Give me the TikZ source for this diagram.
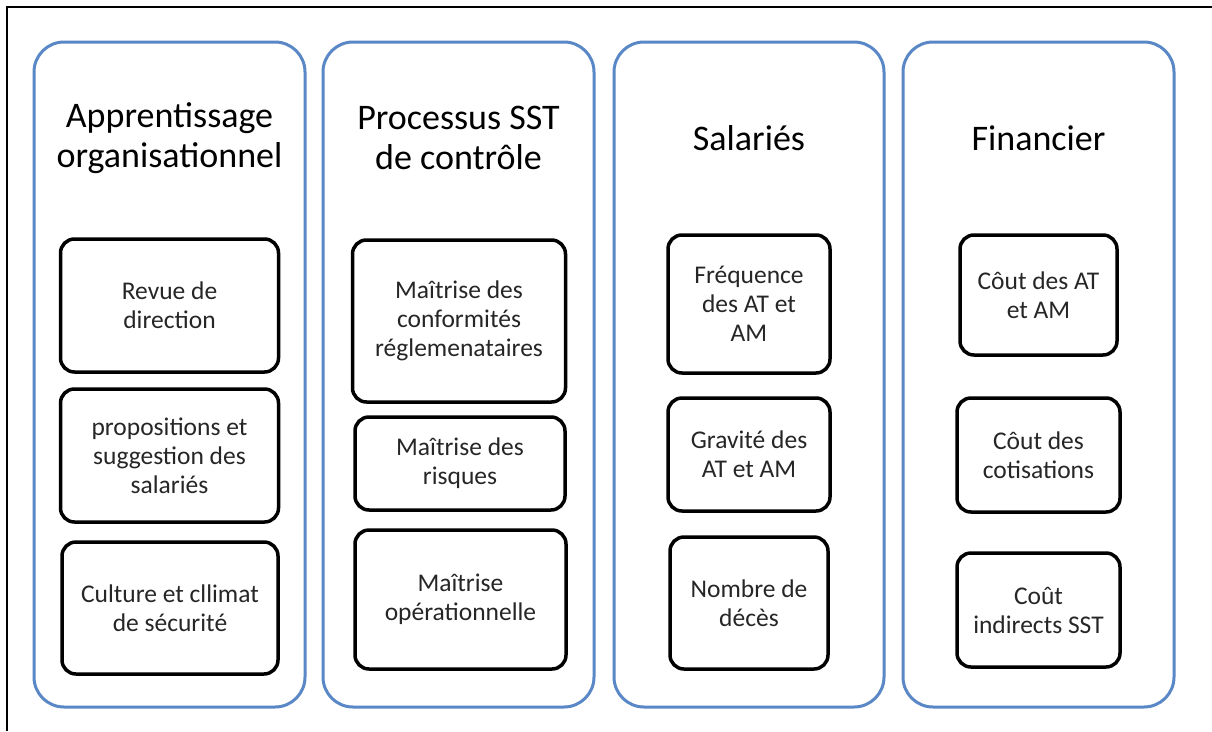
\documentclass[tikz,border=0pt]{standalone}
\usepackage{fontspec}
\setmainfont{Carlito}
\definecolor{colblue}{HTML}{5A87C6}
\begin{document}
\begin{tikzpicture}[x=1pt,y=-1pt,
  col/.style={draw=colblue,line width=3pt,rounded corners=30pt,inner sep=0pt},
  item/.style={draw=black,line width=3.5pt,rounded corners=14pt,align=center,inner sep=0pt,
    font=\fontsize{25.5}{29}\selectfont,text=black!85},
  title/.style={align=center,inner sep=0pt,font=\fontsize{36}{40}\selectfont}]
\useasboundingbox (0,0) rectangle (1212,731);
\fill[white] (0,0) rectangle (1212,731);
\coordinate (fa) at (7,731);
\coordinate (fb) at (7,7);
\coordinate (fc) at (1212,7);
\draw[line width=2pt] (fa) -- (fb) -- (fc);

% columns
\node[col,minimum width=271pt,minimum height=665pt] (c1) at (169.5,374.5) {};
\node[col,minimum width=271pt,minimum height=665pt] (c2) at (458.5,374.5) {};
\node[col,minimum width=270pt,minimum height=665pt] (c3) at (749,374.5) {};
\node[col,minimum width=271pt,minimum height=665pt] (c4) at (1038.5,374.5) {};

% titles
\node[title] (t1) at (169.5,138) {Apprentissage\\organisationnel};
\node[title] (t2) at (458.5,138) {Processus SST\\de contrôle};
\node[title] (t3) at (749,138) {Salariés};
\node[title] (t4) at (1038.5,138) {Financier};

% column 1
\node[item,minimum width=218pt,minimum height=133pt] (a1) at (169.5,305.5) {Revue de\\direction};
\node[item,minimum width=218pt,minimum height=133pt] (a2) at (169.5,455.5) {propositions et\\suggestion des\\salariés};
\node[item,minimum width=216pt,minimum height=132pt] (a3) at (170,608) {Culture et cllimat\\de sécurité};

% column 2
\node[item,minimum width=213pt,minimum height=162pt] (b1) at (459,321) {Maîtrise des\\conformités\\réglemenataires};
\node[item,minimum width=210pt,minimum height=93pt] (b2) at (460,463.5) {Maîtrise des\\risques};
\node[item,minimum width=211pt,minimum height=139pt] (b3) at (460.5,599.5) {Maîtrise\\opérationnelle};

% column 3
\node[item,minimum width=162pt,minimum height=138pt] (s1) at (749,304) {Fréquence\\des AT et\\AM};
\node[item,minimum width=162pt,minimum height=113pt] (s2) at (749,454.5) {Gravité des\\AT et AM};
\node[item,minimum width=158pt,minimum height=132pt] (s3) at (749,603) {Nombre de\\décès};

% column 4
\node[item,minimum width=157pt,minimum height=120pt] (f1) at (1038.5,295) {Côut des AT\\et AM};
\node[item,minimum width=163pt,minimum height=114pt] (f2) at (1038.5,455) {Côut des\\cotisations};
\node[item,minimum width=163pt,minimum height=114pt] (f3) at (1038.5,610) {Coût\\indirects SST};
\end{tikzpicture}
\end{document}
